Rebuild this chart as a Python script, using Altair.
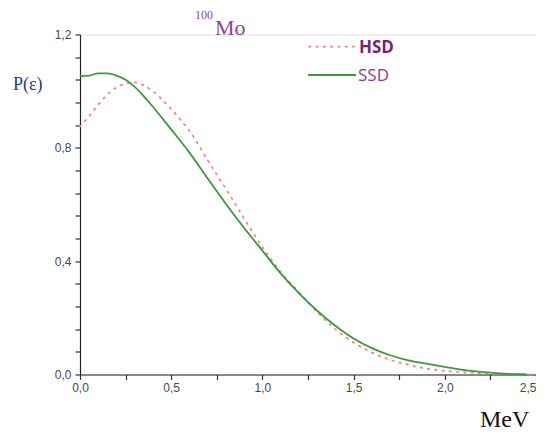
import altair as alt
import pandas as pd

# Energy (MeV)
ssd_x = [0.0, 0.05, 0.1, 0.15, 0.2, 0.25, 0.3, 0.35, 0.4, 0.45, 0.5, 0.6, 0.7, 0.8, 0.9,
         1.0, 1.1, 1.2, 1.3, 1.4, 1.5, 1.6, 1.7, 1.8, 1.9, 2.0, 2.1, 2.2, 2.3, 2.4, 2.45]
ssd_y = [1.053, 1.055, 1.063, 1.063, 1.055, 1.04, 1.015, 0.982, 0.945, 0.905, 0.865, 0.783, 0.692,
         0.602, 0.517, 0.437, 0.357, 0.287, 0.225, 0.172, 0.127, 0.093, 0.068, 0.05, 0.038,
         0.027, 0.016, 0.009, 0.004, 0.001, 0.0]

hsd_x = [0.0, 0.05, 0.1, 0.15, 0.2, 0.25, 0.3, 0.35, 0.4, 0.45, 0.5, 0.55, 0.6, 0.7, 0.8, 0.9,
         1.0, 1.1, 1.2, 1.3, 1.4, 1.5, 1.6, 1.7, 1.8, 1.9, 2.0, 2.1, 2.2, 2.3, 2.4, 2.5]
hsd_y = [0.875, 0.912, 0.952, 0.988, 1.013, 1.027, 1.031, 1.02, 1.0, 0.97, 0.937, 0.9, 0.86,
         0.756, 0.655, 0.55, 0.45, 0.362, 0.291, 0.221, 0.16, 0.113, 0.078, 0.052, 0.034,
         0.021, 0.013, 0.008, 0.005, 0.003, 0.001, 0.0]

x_ticks = [round(i * 0.25, 2) for i in range(11)]
y_ticks = [round(i * 0.08, 2) for i in range(16)]

ssd = pd.DataFrame({"e": ssd_x, "p": ssd_y})
hsd = pd.DataFrame({"e": hsd_x, "p": hsd_y})

W, H = 456, 340

axis_common = dict(title=None, grid=False, labelFont="Liberation Sans", labelFontSize=12,
                   labelColor="#4a4a4a", domainColor="#222222", domainWidth=1.2,
                   tickColor="#333333", tickSize=5, tickWidth=1.2)

x_enc = alt.X("e:Q", scale=alt.Scale(domain=[0, 2.5], nice=False),
              axis=alt.Axis(values=x_ticks, labelPadding=3, labelFlush=False,
                            labelAlign={"condition": {"test": "datum.value >= 2.49", "value": "right"},
                                        "value": "center"},
                            labelExpr="abs(datum.value/0.5 - round(datum.value/0.5)) < 0.001 ? replace(format(datum.value, '.1f'), '.', ',') : ''",
                            **axis_common))
y_enc = alt.Y("p:Q", scale=alt.Scale(domain=[0, 1.2], nice=False),
              axis=alt.Axis(values=y_ticks, labelPadding=4,
                            labelExpr="abs(datum.value/0.4 - round(datum.value/0.4)) < 0.001 ? replace(format(datum.value, '.1f'), '.', ',') : ''",
                            **axis_common))

PINK = "#F0858A"
GREEN = "#3C9A3C"

hsd_line = alt.Chart(hsd).mark_line(color=PINK, strokeWidth=1.8, strokeDash=[1.5, 5.8],
                                    strokeCap="round", interpolate="monotone").encode(x=x_enc, y=y_enc)
ssd_line = alt.Chart(ssd).mark_line(color=GREEN, strokeWidth=1.8,
                                    interpolate="monotone").encode(x=x_enc, y=y_enc)

one = pd.DataFrame({"a": [0]})

def txt(text, x, y, **kw):
    return alt.Chart(one).mark_text(text=text, align="left", **kw).encode(
        x=alt.value(x), y=alt.value(y))

sup = txt("100", 115, -19.5, font="Liberation Serif", fontSize=12, color="#944494", baseline="middle")
mo = txt("Mo", 135, 0, font="Liberation Serif", fontSize=22, color="#944494", baseline="alphabetic")
pe = txt("P(ε)", -67, 55.5, font="Liberation Serif", fontSize=18, color="#2B3A8C", baseline="alphabetic")
mev = txt("MeV", 400, 392, font="Liberation Serif", fontSize=24, color="#111111", baseline="alphabetic")
hsd_lab = txt("HSD", 279, 13.5, font="Open Sans", fontSize=17, fontWeight="bold", color="#7A1F7A", baseline="middle")
ssd_lab = txt("SSD", 278, 41.8, font="Open Sans", fontSize=17, color="#8E3A8E", baseline="middle")

hsd_key = alt.Chart(one).mark_rule(color=PINK, strokeWidth=1.8, strokeDash=[1.5, 5.8],
                                   strokeCap="round").encode(
    x=alt.value(229), x2=alt.value(274), y=alt.value(12.2))
ssd_key = alt.Chart(one).mark_rule(color=GREEN, strokeWidth=1.8).encode(
    x=alt.value(228), x2=alt.value(276), y=alt.value(40.5))

chart = alt.layer(hsd_line, ssd_line, sup, mo, pe, mev, hsd_key, ssd_key, hsd_lab, ssd_lab).properties(
    width=W, height=H,
    autosize=alt.AutoSizeParams(type="none"),
    padding={"left": 72, "top": 26.5, "right": 0, "bottom": 58.5},
).configure_view(stroke=None).configure(background="white")

chart.save("out.html", embed_options={"renderer": "svg", "actions": False})
